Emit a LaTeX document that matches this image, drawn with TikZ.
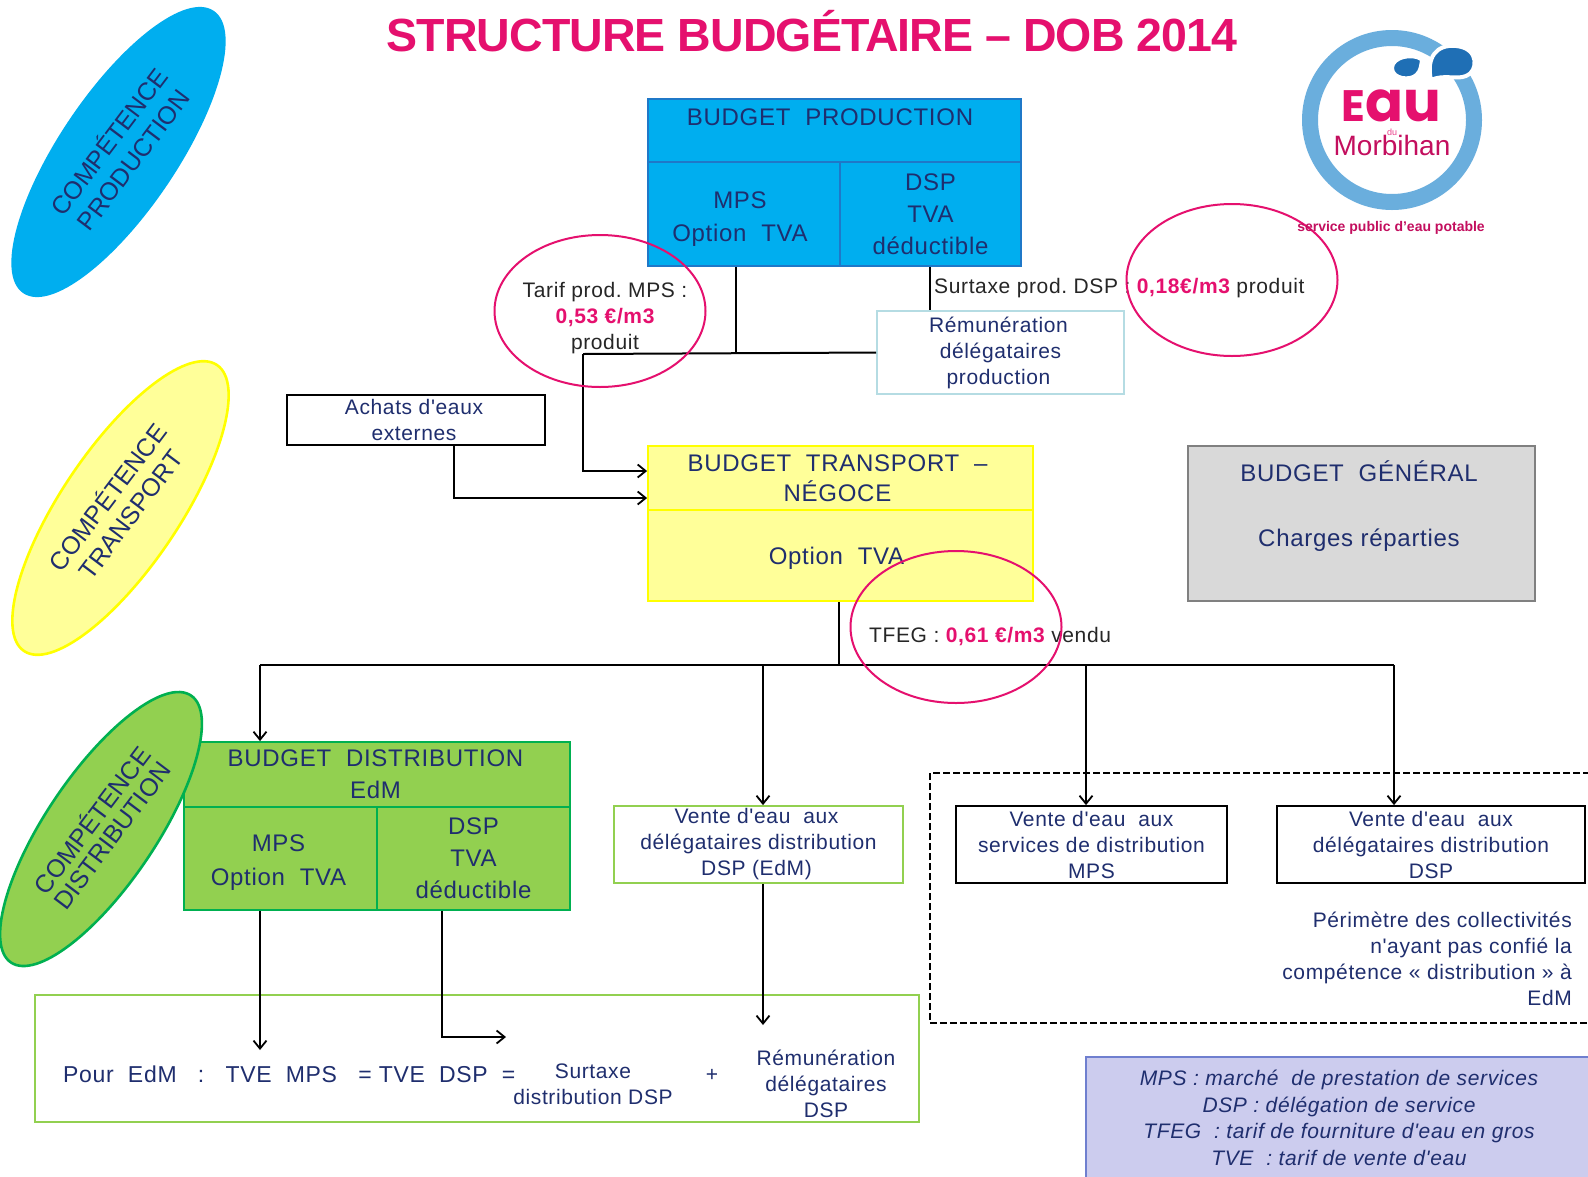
\documentclass[tikz,border=0pt]{standalone}
\usepackage{fontspec}
\usetikzlibrary{arrows.meta,shapes.geometric,calc}
\setmainfont{Liberation Sans}
\newfontfamily\spaced[LetterSpace=3]{Liberation Sans}
\newfontfamily\tight[LetterSpace=-2]{Liberation Sans}
\newfontfamily\logofont{Poppins}
\definecolor{navy}{HTML}{1F2E6E}
\definecolor{pinkm}{HTML}{E5106E}
\definecolor{bluef}{HTML}{00AEEF}
\definecolor{blued}{HTML}{1F78C8}
\definecolor{yelf}{HTML}{FFFF99}
\definecolor{yeld}{HTML}{FFFF00}
\definecolor{grnf}{HTML}{92D050}
\definecolor{grnd}{HTML}{00B050}
\definecolor{ltblue}{HTML}{B5DCE3}
\definecolor{lilac}{HTML}{CCCCEE}
\definecolor{lilacd}{HTML}{6F7FCF}
\definecolor{greyf}{HTML}{D9D9D9}
\definecolor{greyd}{HTML}{808080}
\definecolor{ring}{HTML}{6AAEDD}
\definecolor{drop}{HTML}{1F6FB5}
\newcommand{\bigf}{\spaced\fontsize{24}{32}\selectfont}
\newcommand{\smf}{\spaced\fontsize{21}{26}\selectfont}
\newcommand{\pk}[1]{{\color{pinkm}\bfseries #1}}
\newcommand{\lift}[1]{\rule{0pt}{#1pt}}
\tikzset{
  box/.style={rectangle,inner sep=0pt,line width=1.8pt,text=navy,align=center,font=\bigf},
  bluebox/.style={box,fill=bluef,draw=blued},
  yelbox/.style={box,fill=yelf,draw=yeld},
  grnbox/.style={box,fill=grnf,draw=grnd},
  smallbox/.style={box,font=\smf,line width=1.8pt},
  lab/.style={inner sep=0pt,align=center,text=navy,font=\bigf},
  smlab/.style={inner sep=0pt,align=center,text=navy,font=\smf},
  blklab/.style={inner sep=0pt,align=center,text=black!85,font=\spaced\fontsize{21}{26}\selectfont},
  comp/.style={ellipse,inner sep=0pt,line width=2.6pt,rotate=56},
  comptext/.style={inner sep=0pt,align=center,text=navy,font=\fontsize{25}{30}\selectfont},
  conn/.style={draw=black,line width=2pt},
  arr/.style={conn,-{Straight Barb[length=8pt,width=13pt,line width=1.8pt]}},
  halo/.style={draw=pinkm,line width=2pt,ellipse,inner sep=0pt,minimum width=211pt,minimum height=152pt}
}
\begin{document}
\begin{tikzpicture}[x=1pt,y=-1pt]
\useasboundingbox (0,0) rectangle (1588,1176);
\fill[white] (0,0) rectangle (1588,1176);

% title
\node[inner sep=0pt,text=pinkm,font=\tight\bfseries\fontsize{46.5}{50}\selectfont] (title) at (812,31) {STRUCTURE BUDGÉTAIRE – DOB 2014};

% production
\node[bluebox,minimum width=373pt,minimum height=63pt] (bph) at (834.5,130.5) {};
\node[lab] (bphl) at (830,117) {BUDGET~~PRODUCTION};
\node[bluebox,minimum width=192pt,minimum height=104pt] (bpm) at (744,214) {\lift{27}MPS\hspace*{8pt}\\[1pt]Option~~TVA\hspace*{8pt}};
\node[bluebox,minimum width=181pt,minimum height=104pt] (bpd) at (930.5,214) {DSP\\TVA\\déductible};

% remuneration
\node[smallbox,draw=ltblue,fill=white,minimum width=247pt,minimum height=83pt] (rem) at (1000.5,352.5) {Rémunération\hspace*{4pt}\\délégataires\hspace*{4pt}\\production\hspace*{4pt}};

% achats
\node[smallbox,draw=black,minimum width=258pt,minimum height=50pt] (ach) at (416,420) {Achats d'eaux\hspace*{4pt}\\externes\hspace*{4pt}};

% transport
\node[yelbox,minimum width=385pt,minimum height=64pt] (bth) at (840.5,478) {BUDGET~~TRANSPORT~~–\hspace*{6pt}\\[-2pt]NÉGOCE\hspace*{6pt}};
\node[yelbox,minimum width=385pt,minimum height=91pt] (btb) at (840.5,555.5) {\lift{22}Option~~TVA\hspace*{8pt}};

% general
\node[box,fill=greyf,draw=greyd,minimum width=347pt,minimum height=155pt] (bg) at (1361.5,523.5) {};
\node[lab] (bgl) at (1359,506) {BUDGET~~GÉNÉRAL\\[33pt]Charges réparties};

% distribution
\node[grnbox,minimum width=386pt,minimum height=65pt] (bdh) at (377,774.5) {BUDGET~~DISTRIBUTION\hspace*{3pt}\\EdM\hspace*{3pt}};
\node[grnbox,minimum width=193pt,minimum height=103pt] (bdm) at (280.5,858.5) {\lift{24}MPS\hspace*{4pt}\\[2pt]Option~~TVA\hspace*{4pt}};
\node[grnbox,minimum width=193pt,minimum height=103pt] (bdd) at (473.5,858.5) {DSP\\TVA\\déductible};

% vente boxes
\node[smallbox,draw=grnf,minimum width=289pt,minimum height=77pt] (v1) at (758.5,844.5) {Vente d'eau~~aux\hspace*{4pt}\\délégataires distribution\hspace*{4pt}\\DSP (EdM)\hspace*{4pt}};
\node[smallbox,draw=black,minimum width=271pt,minimum height=77pt] (v2) at (1091.5,844.5) {Vente d'eau~~aux\\services de distribution\\MPS};
\node[smallbox,draw=black,minimum width=308pt,minimum height=77pt] (v3) at (1431,844.5) {Vente d'eau~~aux\\délégataires distribution\\DSP};

% dashed perimeter
\node[draw=black,line width=1.6pt,dash pattern=on 7pt off 3pt,inner sep=0pt,minimum width=680pt,minimum height=250pt] (per) at (1270,898) {};
\node[smlab,align=right,anchor=north east] (perl) at (1572,912) {Périmètre des collectivités\\n'ayant pas confié la\\compétence « distribution » à\\EdM};

% formula box
\node[draw=grnf,line width=1.8pt,inner sep=0pt,minimum width=884pt,minimum height=127pt] (form) at (477,1058.5) {};
\node[lab,anchor=west,font=\spaced\fontsize{23}{30}\selectfont] (f1) at (63,1074) {Pour~~EdM~~~:~~~TVE~~MPS~~~=~TVE~~DSP~~=};
\node[smlab] (f2) at (593,1084) {Surtaxe\\distribution DSP};
\node[lab,font=\smf] (f3) at (712,1075) {+};
\node[smlab] (f4) at (826,1084) {Rémunération\\délégataires\\DSP};

% legend
\node[draw=lilacd,fill=lilac,line width=1.6pt,inner sep=0pt,minimum width=520pt,minimum height=130pt] (leg) at (1346,1122) {};
\node[smlab,font=\spaced\itshape\fontsize{21}{26.5}\selectfont] (legl) at (1339,1118) {MPS : marché~ de prestation de services\\DSP : délégation de service\\TFEG~ : tarif de fourniture d'eau en gros\\TVE~ : tarif de vente d'eau};

% coordinates for connector ends
\coordinate (xa) at (736,0);
\coordinate (xb) at (930,0);
\coordinate (xc) at (583,0);
\coordinate (xd) at (454,0);
\coordinate (xe) at (839,0);
\coordinate (xf) at (260,0);
\coordinate (xg) at (763,0);
\coordinate (xh) at (1086,0);
\coordinate (xi) at (1394,0);
\coordinate (xj) at (442,0);
\coordinate (ya) at (0,354);
\coordinate (yb) at (0,471);
\coordinate (yc) at (0,498);
\coordinate (yd) at (0,665);
\coordinate (jn1) at (xa |- ya);
\coordinate (jn2) at (xc |- ya);
\coordinate (jn3) at (xe |- yd);
\coordinate (jn4) at (xf |- yd);
\coordinate (jn5) at (xg |- yd);
\coordinate (jn6) at (xh |- yd);
\coordinate (jn7) at (xi |- yd);
\coordinate (e1) at (260,1050);
\coordinate (e2) at (442,1037);
\coordinate (e3) at (506,1037);
\coordinate (e4) at (763,1025);

% connectors
\draw[conn] (bpm.south -| xa) -- (jn1);
\draw[conn] (bpd.south -| xb) -- (rem.north -| xb);
\draw[conn] (rem.west) -- (jn2);
\draw[arr] (jn2) -- (jn2 |- yb) -- (bth.west |- yb);
\draw[arr] (ach.south -| xd) -- (xd |- yc) -- (bth.west |- yc);
\draw[conn] (btb.south -| xe) -- (jn3);
\draw[conn] (jn4) -- (jn7);
\draw[arr] (jn4) -- (bdh.north -| xf);
\draw[arr] (jn5) -- (v1.north -| xg);
\draw[arr] (jn6) -- (v2.north -| xh);
\draw[arr] (jn7) -- (v3.north -| xi);
\draw[arr] (bdm.south -| xf) -- (e1);
\draw[arr] (bdd.south -| xj) -- (e2) -- (e3);
\draw[arr] (v1.south -| xg) -- (e4);

% competence ellipses
\node[comp,fill=bluef,draw=bluef,minimum width=338pt,minimum height=115pt] (ce1) at (118.5,152) {};
\node[comptext,rotate=53] (ct1) at (120,150) {COMPÉTENCE\\PRODUCTION};
\node[comp,fill=yelf,draw=yeld,minimum width=345pt,minimum height=118pt] (ce2) at (120.5,508) {};
\node[comptext,rotate=53,font=\fontsize{25}{29}\selectfont] (ct2) at (118,505) {COMPÉTENCE\\TRANSPORT};
\node[comp,fill=grnf,draw=grnd,minimum width=322pt,minimum height=110pt] (ce3) at (101,829) {};
\node[comptext,rotate=53,font=\fontsize{25}{25}\selectfont] (ct3) at (101,827) {COMPÉTENCE\\DISTRIBUTION};

% tariff labels and circles
\node[blklab] (t1) at (605,318) {Tarif prod.~MPS~:\\\pk{0,53 €/m3}\\produit};
\node[blklab,anchor=west] (t2) at (934,288) {Surtaxe prod.~DSP~: \pk{0,18€/m3} produit};
\node[blklab,anchor=west] (t3) at (869,637) {TFEG : \pk{0,61 €/m3} vendu};
\node[halo] (h1) at (600,311) {};
\node[halo] (h2) at (1232,280) {};
\node[halo] (h3) at (956,627) {};

% logo
\node[circle,draw=ring,line width=16pt,minimum size=164pt,inner sep=0pt] (ringn) at (1392,120) {};
\begin{scope}[draw=white,line width=4pt]
\filldraw[fill=drop] (1431,80) .. controls (1426,58) and (1436,44) .. (1456,46)
  .. controls (1480,48) and (1478,72) .. (1466,76) .. controls (1456,80) and (1444,74) .. (1431,80) -- cycle;
\filldraw[fill=drop,line width=2pt] (1421,60) .. controls (1412,54) and (1393,58) .. (1393,68)
  .. controls (1393,78) and (1410,80) .. (1416,74) .. controls (1420,70) and (1420,66) .. (1421,60) -- cycle;
\end{scope}
\node[inner sep=0pt,text=pinkm,font=\logofont\bfseries\fontsize{44}{46}\selectfont] (logo1) at (1391,106) {E{\fontsize{56}{56}\selectfont au}};
\node[inner sep=0pt,text=pinkm!80,font=\fontsize{9}{10}\selectfont] (logo2) at (1392,132) {du};
\node[inner sep=0pt,text=pinkm!85!black,font=\fontsize{28}{28}\selectfont] (logo3) at (1392,145) {Morbihan};
\node[inner sep=0pt,text=pinkm!85!black,font=\bfseries\fontsize{14}{15}\selectfont] (logo4) at (1391,228) {service public d'eau potable};
\end{tikzpicture}
\end{document}
